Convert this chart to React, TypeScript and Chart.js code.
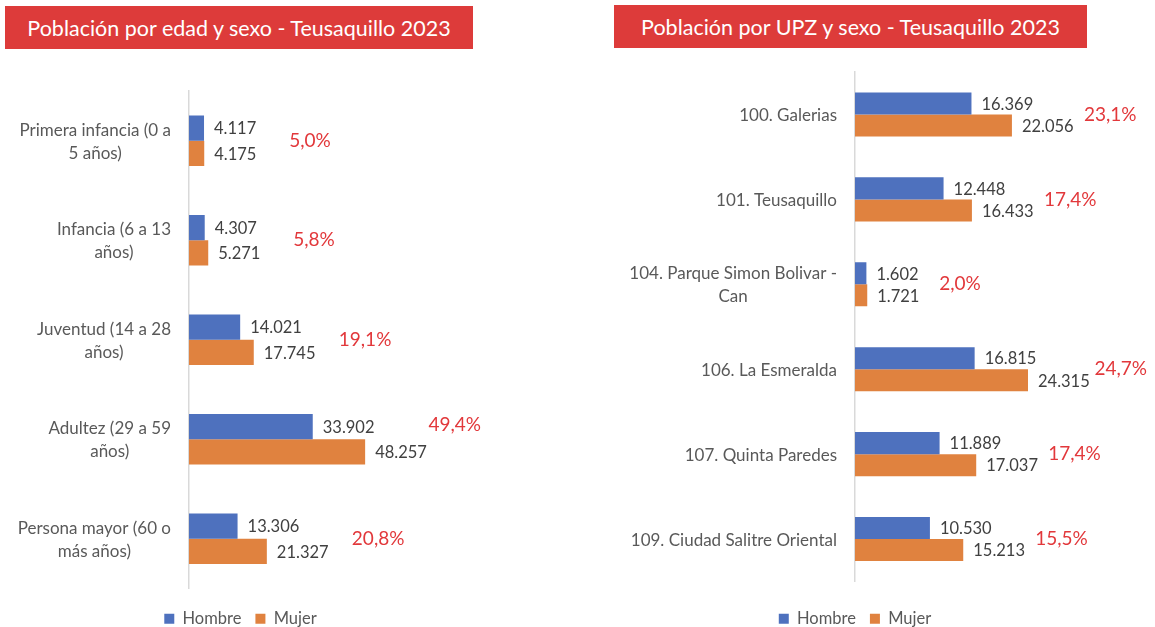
import React, { useEffect, useRef } from 'react';
import { Chart, registerables } from 'chart.js';

Chart.register(...registerables);

// ---------- DATA ----------
const seriesNames = ['Hombre', 'Mujer'];

const ageCategories = [
  ['Primera infancia (0 a', '5 años)'],
  ['Infancia (6 a 13', 'años)'],
  ['Juventud (14 a 28', 'años)'],
  ['Adultez (29 a 59', 'años)'],
  ['Persona mayor (60 o', 'más años)'],
];
const ageHombre = [4117, 4307, 14021, 33902, 13306];
const ageMujer = [4175, 5271, 17745, 48257, 21327];
const agePct = ['5,0%', '5,8%', '19,1%', '49,4%', '20,8%'];

const upzCategories = [
  ['100. Galerias'],
  ['101. Teusaquillo'],
  ['104. Parque Simon Bolivar -', 'Can'],
  ['106. La Esmeralda'],
  ['107. Quinta Paredes'],
  ['109. Ciudad Salitre Oriental'],
];
const upzHombre = [16369, 12448, 1602, 16815, 11889, 10530];
const upzMujer = [22056, 16433, 1721, 24315, 17037, 15213];
const upzPct = ['23,1%', '17,4%', '2,0%', '24,7%', '17,4%', '15,5%'];

const titleAge = 'Población por edad y sexo - Teusaquillo 2023';
const titleUpz = 'Población por UPZ y sexo - Teusaquillo 2023';

// ---------- STYLE ----------
const FONT = 'Lato, "DejaVu Sans", sans-serif';
const BLUE = '#4E71BE';
const ORANGE = '#E0823F';
const RED = '#DD3B3A';
const PCT_RED = '#E2383B';

const fmt = (n: number) => String(n).replace(/\B(?=(\d{3})+(?!\d))/g, '.');

function makeLabelPlugin(cats: string[][], pct: string[], pctOffset: number) {
  return {
    id: 'customLabels',
    afterDatasetsDraw(chart: any) {
      const ctx = chart.ctx;
      const yScale = chart.scales.y;
      const area = chart.chartArea;
      ctx.save();
      // value labels
      const valFont = `16.5px ${FONT}`;
      ctx.font = valFont;
      ctx.fillStyle = '#404040';
      ctx.textBaseline = 'middle';
      ctx.textAlign = 'left';
      const labelEnds: number[][] = [];
      chart.data.datasets.forEach((ds: any, di: number) => {
        const meta = chart.getDatasetMeta(di);
        labelEnds[di] = [];
        meta.data.forEach((el: any, i: number) => {
          const t = fmt(ds.data[i]);
          ctx.fillText(t, el.x + 10, el.y + 1);
          labelEnds[di][i] = el.x + 10 + ctx.measureText(t).width;
        });
      });
      // percentage labels
      ctx.font = `19px ${FONT}`;
      ctx.fillStyle = PCT_RED;
      const hMeta = chart.getDatasetMeta(0);
      const mMeta = chart.getDatasetMeta(1);
      pct.forEach((p, i) => {
        const el = mMeta.data[i];
        let y = yScale.getPixelForValue(i);
        const w = ctx.measureText(p).width;
        const x = Math.min(el.x + pctOffset, area.right - w);
        if (x < labelEnds[1][i] + 4) y = hMeta.data[i].y - 2;
        ctx.fillText(p, x, y);
      });
      // category labels: block right aligned, lines centered
      ctx.font = `17px ${FONT}`;
      ctx.fillStyle = '#595959';
      ctx.textAlign = 'center';
      const right = area.left - 18;
      const lh = 23;
      cats.forEach((lines, i) => {
        const w = Math.max(...lines.map((l) => ctx.measureText(l).width));
        const cx = right - w / 2;
        const cy = yScale.getPixelForValue(i);
        lines.forEach((l, k) => {
          const y = cy + (k - (lines.length - 1) / 2) * lh;
          ctx.fillText(l, cx, y + 1);
        });
      });
      ctx.restore();
    },
  };
}

interface BarProps {
  cats: string[][];
  hombre: number[];
  mujer: number[];
  pct: string[];
  xMax: number;
  axisWidth: number;
  padTop: number;
  padRight: number;
  xAxisHeight: number;
  catPct: number;
  pctOffset: number;
}

function BarChart(p: BarProps) {
  const ref = useRef<HTMLCanvasElement>(null);
  useEffect(() => {
    if (!ref.current) return;
    const chart = new Chart(ref.current, {
      type: 'bar',
      data: {
        labels: p.cats.map((c) => c.join(' ')),
        datasets: [
          {
            label: seriesNames[0],
            data: p.hombre,
            backgroundColor: BLUE,
            categoryPercentage: p.catPct,
            barPercentage: 1,
          },
          {
            label: seriesNames[1],
            data: p.mujer,
            backgroundColor: ORANGE,
            categoryPercentage: p.catPct,
            barPercentage: 1,
          },
        ],
      },
      options: {
        indexAxis: 'y',
        animation: false,
        responsive: true,
        maintainAspectRatio: false,
        layout: { padding: { top: p.padTop, right: p.padRight, left: 0, bottom: 0 } },
        scales: {
          x: {
            min: 0,
            max: p.xMax,
            display: true,
            ticks: { display: false },
            grid: { display: false },
            border: { display: false },
            afterFit: (s: any) => {
              s.height = p.xAxisHeight;
            },
          },
          y: {
            ticks: { display: false },
            grid: { display: false },
            border: { display: true, color: '#D9D9D9', width: 1.5 },
            afterFit: (s: any) => {
              s.width = p.axisWidth;
            },
          },
        },
        plugins: {
          legend: {
            position: 'bottom',
            labels: {
              boxWidth: 10,
              boxHeight: 10,
              padding: 14,
              color: '#595959',
              font: { family: FONT, size: 16.5 },
            },
          },
          tooltip: { enabled: false },
          title: { display: false },
        },
      },
      plugins: [makeLabelPlugin(p.cats, p.pct, p.pctOffset)],
    } as any);
    return () => chart.destroy();
  }, []);
  return <canvas ref={ref} />;
}

const bannerStyle = (left: number, top: number, width: number, height: number): React.CSSProperties => ({
  position: 'absolute',
  left,
  top,
  width,
  height,
  background: RED,
  color: '#FFFFFF',
  fontFamily: FONT,
  fontSize: 21.5,
  display: 'flex',
  alignItems: 'center',
  justifyContent: 'center',
  whiteSpace: 'nowrap',
});

export default function App() {
  return (
    <div
      style={{
        position: 'absolute',
        left: 0,
        top: 0,
        width: 1155,
        height: 627,
        overflow: 'hidden',
        background: '#FFFFFF',
      }}
    >
      <div style={bannerStyle(5, 6, 468, 43)}>{titleAge}</div>
      <div style={bannerStyle(614, 5, 473, 43)}>{titleUpz}</div>
      <div style={{ position: 'absolute', left: 0, top: 55, width: 486, height: 582 }}>
        <BarChart
          cats={ageCategories}
          hombre={ageHombre}
          mujer={ageMujer}
          pct={agePct}
          xMax={80000}
          axisWidth={189}
          padTop={36}
          padRight={5}
          xAxisHeight={8}
          catPct={0.51}
          pctOffset={85}
        />
      </div>
      <div style={{ position: 'absolute', left: 563, top: 55, width: 584, height: 582 }}>
        <BarChart
          cats={upzCategories}
          hombre={upzHombre}
          mujer={upzMujer}
          pct={upzPct}
          xMax={41040}
          axisWidth={292}
          padTop={17}
          padRight={0}
          xAxisHeight={15}
          catPct={0.52}
          pctOffset={72}
        />
      </div>
    </div>
  );
}
